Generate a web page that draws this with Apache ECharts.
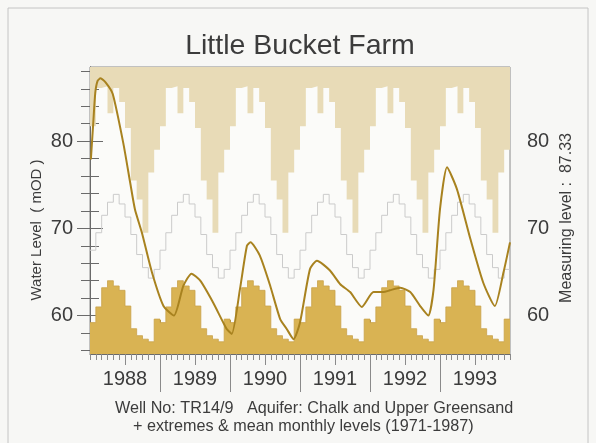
<!DOCTYPE html>
<html>
<head>
<meta charset="utf-8">
<script src="https://cdn.jsdelivr.net/npm/echarts@6/dist/echarts.min.js"></script>
<style>
html,body{margin:0;padding:0;background:#f7f7f5;}
#chart{width:596px;height:443px;}
</style>
</head>
<body>
<div id="chart"></div>
<script>
// ---- data ----
const years = ['1988', '1989', '1990', '1991', '1992', '1993'];
// long-term monthly statistics (1971-1987), Jan..Dec, mOD
const maxMonthly  = [81.7, 86.1, 86.3, 83.2, 86.1, 84.5, 81.5, 75.5, 73.3, 69.5, 76.4, 79.0];
const meanMonthly = [67.5, 69.5, 71.5, 73.0, 73.9, 72.8, 71.3, 69.3, 67.0, 65.5, 64.3, 65.3];
const minMonthly  = [59.2, 61.0, 63.2, 64.0, 63.4, 62.9, 61.1, 58.5, 57.7, 57.3, 57.0, 59.6];
// observed level: time in months since Jan 1988, value in mOD
const levelMonth = [0.15, 0.55, 0.9, 1.3, 1.8, 2.7, 3.9, 5.7, 6.9, 7.7, 8.9, 10.6, 12.6, 14.4, 16.0, 17.4, 18.9, 21.1, 23.4, 24.3, 25.7, 26.9, 27.5, 29.1, 30.9, 32.6, 33.7, 34.9, 36.0, 37.7, 38.9, 41.1, 42.9, 44.6, 46.6, 48.6, 50.3, 51.4, 53.2, 54.9, 56.6, 58.0, 58.9, 60.0, 61.2, 62.9, 65.2, 67.4, 69.4, 70.9, 72.0];
const levelValue = [77.9, 82.0, 85.5, 86.9, 87.2, 86.7, 85.4, 79.8, 75.2, 72.2, 69.5, 65.0, 61.1, 60.0, 63.4, 64.8, 64.0, 61.5, 58.5, 57.9, 63.0, 68.0, 68.4, 66.9, 63.4, 59.6, 58.5, 57.3, 59.2, 65.3, 66.3, 65.2, 63.6, 62.7, 61.0, 62.7, 62.7, 62.9, 63.2, 62.7, 61.1, 60.0, 63.0, 72.2, 77.0, 74.5, 68.8, 63.8, 61.1, 65.0, 68.4];
const yMajorTicks = [60, 70, 80];
const yMinorTicks = [56, 58, 60, 62, 64, 66, 68, 70, 72, 74, 76, 78, 80, 82, 84, 86, 88];
const measuringLevel = '87.33';

// ---- build series data ----
function stepData(monthly) {
  const out = [];
  for (let y = 0; y < years.length; y++) {
    for (let m = 0; m < 12; m++) out.push([y * 12 + m, monthly[m]]);
  }
  out.push([years.length * 12, monthly[11]]);
  return out;
}
const levelData = levelMonth.map((m, i) => [m, levelValue[i]]);
const midYear = years.map((_, i) => i * 12 + 6);
const yearBounds = years.slice(1).map((_, i) => (i + 1) * 12);

const FONT = '"Liberation Sans", Arial, Helvetica, sans-serif';
const TXT = '#3c3c3c';
const YMIN = 55.6, YMAX = 88.5;

const chart = echarts.init(document.getElementById('chart'), null, {renderer: 'canvas'});
const axisCol = '#6a6a6a';

function yAx(pos, ticks, len, labels, showLine) {
  return {
    type: 'value', position: pos, min: YMIN, max: YMAX,
    axisLine: {show: showLine, lineStyle: {color: axisCol, width: 1}},
    axisTick: {show: true, customValues: ticks, length: len, lineStyle: {color: axisCol, width: 1}},
    axisLabel: labels ? {show: true, customValues: yMajorTicks, fontSize: 20, color: TXT, fontFamily: FONT, margin: 17} : {show: false},
    splitLine: {show: false}
  };
}
function xAx(extra) {
  return Object.assign({type: 'value', position: 'bottom', min: 0, max: 72,
    axisLine: {show: false}, axisLabel: {show: false}, splitLine: {show: false}}, extra);
}

chart.setOption({
  animation: false,
  backgroundColor: '#f7f7f5',
  grid: {left: 90, top: 67, width: 420, height: 287, show: true, backgroundColor: '#fbfbf9', borderColor: '#8a8a8a', borderWidth: 1},
  xAxis: [
    xAx({interval: 1,
     axisLine: {show: true, lineStyle: {color: axisCol}},
     axisTick: {show: true, length: 6, lineStyle: {color: '#8a8a8a'}}}),
    xAx({axisTick: {show: true, customValues: midYear, length: 11, lineStyle: {color: '#8a8a8a'}},
     axisLabel: {show: true, customValues: midYear, margin: 15, fontSize: 20, color: TXT, fontFamily: FONT,
                 formatter: v => years[Math.round((v - 6) / 12)]}}),
    xAx({axisTick: {show: true, customValues: yearBounds, length: 38, lineStyle: {color: '#8a8a8a'}}}),
    xAx({axisTick: {show: true, inside: true, customValues: yearBounds, length: 34, lineStyle: {color: '#a88a3c'}}})
  ],
  yAxis: [
    yAx('left', yMinorTicks, 9, false, true),
    yAx('left', yMajorTicks, 13, true, false),
    yAx('right', yMinorTicks, 9, false, true),
    yAx('right', yMajorTicks, 13, true, false)
  ],
  series: [
    {type: 'line', name: 'max', step: 'end', data: stepData(maxMonthly), symbol: 'none',
     lineStyle: {width: 0}, areaStyle: {color: '#e8dbb7', opacity: 1, origin: 'end'}, z: 1},
    {type: 'line', name: 'min', step: 'end', data: stepData(minMonthly), symbol: 'none',
     lineStyle: {width: 0.8, color: '#c9a24a'}, areaStyle: {color: '#d9b353', opacity: 1, origin: 'start'}, z: 2},
    {type: 'line', name: 'mean', step: 'end', data: stepData(meanMonthly), symbol: 'none',
     lineStyle: {width: 1, color: '#cbcbcb'}, z: 3},
    {type: 'line', name: 'level', data: levelData, symbol: 'none', smooth: 0.2,
     lineStyle: {width: 2, color: '#a8821f'}, z: 4}
  ],
  graphic: [
    {type: 'rect', shape: {x: 8, y: 8, width: 580, height: 450}, style: {fill: 'none', stroke: '#c4c4c4', lineWidth: 1}, silent: true},
    {type: 'text', x: 300, y: 46, style: {text: 'Little Bucket Farm', font: '28.5px ' + FONT, fill: TXT, align: 'center', verticalAlign: 'middle'}},
    {type: 'text', x: 37, y: 230, rotation: Math.PI / 2, style: {text: 'Water Level  ( mOD )', font: '15px ' + FONT, fill: TXT, align: 'center', verticalAlign: 'middle'}},
    {type: 'text', x: 567, y: 218, rotation: Math.PI / 2, style: {text: 'Measuring level :  ' + measuringLevel, font: '16px ' + FONT, fill: TXT, align: 'center', verticalAlign: 'middle'}},
    {type: 'text', x: 115, y: 409, style: {text: 'Well No: TR14/9   Aquifer: Chalk and Upper Greensand', font: '16.2px ' + FONT, fill: TXT, align: 'left', verticalAlign: 'middle'}},
    {type: 'text', x: 133, y: 427, style: {text: '+ extremes & mean monthly levels (1971-1987)', font: '16.2px ' + FONT, fill: TXT, align: 'left', verticalAlign: 'middle'}}
  ]
});
</script>
</body>
</html>
